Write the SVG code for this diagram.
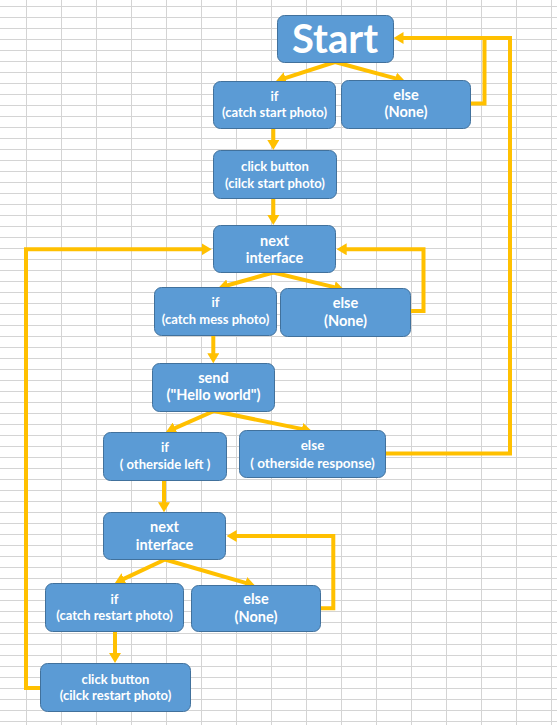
<svg xmlns="http://www.w3.org/2000/svg" width="557" height="725" viewBox="0 0 557 725">
<defs>
<style>
.grid{stroke:#d4d4d4;stroke-width:1;fill:none}
.box{fill:#5b9bd5;stroke:#41719c;stroke-width:1}
.t{font-family:Lato,"Liberation Sans",sans-serif;font-weight:bold;fill:#fff;text-anchor:middle;font-size:13px}
.L{font-size:14.5px}
.M{font-size:13.5px}
.big{font-size:40px}
.c{stroke:#ffc000;stroke-width:4;fill:none;stroke-linejoin:miter}
.a{marker-end:url(#ah)}
</style>
<marker id="ah" viewBox="0 0 10 12" refX="2" refY="6" markerWidth="10" markerHeight="12" markerUnits="userSpaceOnUse" orient="auto">
<path d="M0,0 L10,6 L0,12 z" fill="#ffc000"/>
</marker>
</defs>
<rect width="557" height="725" fill="#fff"/>
<path class="grid" d="M0 6.5H557M0 17.5H557M0 28.5H557M0 39.5H557M0 50.5H557M0 61.5H557M0 72.5H557M0 83.5H557M0 94.5H557M0 105.5H557M0 116.5H557M0 127.5H557M0 138.5H557M0 149.5H557M0 160.5H557M0 171.5H557M0 182.5H557M0 193.5H557M0 204.5H557M0 215.5H557M0 226.5H557M0 237.5H557M0 248.5H557M0 259.5H557M0 270.5H557M0 281.5H557M0 292.5H557M0 303.5H557M0 314.5H557M0 325.5H557M0 336.5H557M0 347.5H557M0 358.5H557M0 369.5H557M0 380.5H557M0 391.5H557M0 402.5H557M0 413.5H557M0 424.5H557M0 435.5H557M0 446.5H557M0 457.5H557M0 468.5H557M0 479.5H557M0 490.5H557M0 501.5H557M0 512.5H557M0 523.5H557M0 534.5H557M0 545.5H557M0 556.5H557M0 567.5H557M0 578.5H557M0 589.5H557M0 600.5H557M0 611.5H557M0 622.5H557M0 633.5H557M0 644.5H557M0 655.5H557M0 666.5H557M0 677.5H557M0 688.5H557M0 699.5H557M0 710.5H557M0 721.5H557M26.5 0V725M61.5 0V725M96.5 0V725M131.5 0V725M166.5 0V725M201.5 0V725M236.5 0V725M271.5 0V725M306.5 0V725M341.5 0V725M376.5 0V725M411.5 0V725M446.5 0V725M481.5 0V725M516.5 0V725M551.5 0V725"/>
<g id="connectors">
<path class="c a" d="M335,62 L283.6,78.6"/>
<path class="c a" d="M335,62 L397.3,78.9"/>
<path class="c a" d="M273.3,128 V142"/>
<path class="c a" d="M273.3,198 V217"/>
<path class="c" d="M470.5,103.5 H484.5 V38"/>
<path class="c a" d="M385.5,453.5 H510 V38 H401.5"/>
<path class="c a" d="M273.3,272.5 L226,285.8"/>
<path class="c a" d="M273.3,272.5 L336.2,287.6"/>
<path class="c a" d="M410.5,311 H423.5 V249.3 H344.7"/>
<path class="c a" d="M40,688 H26 V249.3 H203.7"/>
<path class="c a" d="M213.3,335 V355.3"/>
<path class="c a" d="M214,411 L173.3,428.8"/>
<path class="c a" d="M214,411 L303.9,429.4"/>
<path class="c a" d="M164,480 V504.3"/>
<path class="c a" d="M165,559.5 L122.2,579.6"/>
<path class="c a" d="M165,559.5 L247.3,583.3"/>
<path class="c a" d="M320,608.3 H333.3 V536 H234.7"/>
<path class="c a" d="M115,631 V655"/>
</g>
<g id="start"><rect class="box" x="277.5" y="15.5" width="116" height="47" rx="7"/><text class="t big" x="335" y="53">Start</text></g>
<g id="if1"><rect class="box" x="213.5" y="81.5" width="122" height="47" rx="7"/><text class="t" x="274.5" y="100.5">if</text><text class="t" x="274.5" y="116.5">(catch start photo)</text></g>
<g id="else1"><rect class="box" x="341.5" y="80.5" width="129" height="48" rx="7"/><text class="t L" x="406" y="100">else</text><text class="t L" x="406" y="117">(None)</text></g>
<g id="click1"><rect class="box" x="213.5" y="150.5" width="123" height="48" rx="7"/><text class="t" x="275" y="171">click button</text><text class="t" x="275" y="187.5">(cilck start photo)</text></g>
<g id="next1"><rect class="box" x="213.5" y="225.5" width="122" height="47" rx="7"/><text class="t L" x="274.5" y="245.5">next</text><text class="t L" x="274.5" y="263">interface</text></g>
<g id="if2"><rect class="box" x="154.5" y="287.5" width="122" height="48" rx="7"/><text class="t" x="215.5" y="307">if</text><text class="t" x="215.5" y="323.5">(catch mess photo)</text></g>
<g id="else2"><rect class="box" x="280.5" y="288.5" width="130" height="48" rx="7"/><text class="t L" x="345.5" y="308">else</text><text class="t L" x="345.5" y="325.5">(None)</text></g>
<g id="send"><rect class="box" x="152.5" y="363.5" width="122" height="48" rx="7"/><text class="t L" x="213.5" y="383">send</text><text class="t L" x="213.5" y="400">("Hello world")</text></g>
<g id="if3"><rect class="box" x="103.5" y="432.5" width="123" height="48" rx="7"/><text class="t" x="165" y="452">if</text><text class="t" x="165" y="468.5">( otherside left )</text></g>
<g id="else3"><rect class="box" x="239.5" y="430.5" width="146" height="47" rx="7"/><text class="t M" x="312.5" y="450">else</text><text class="t M" x="312.5" y="467.5">( otherside response)</text></g>
<g id="next2"><rect class="box" x="103.5" y="512.5" width="122" height="47" rx="7"/><text class="t L" x="164.5" y="532.3">next</text><text class="t L" x="164.5" y="550">interface</text></g>
<g id="if4"><rect class="box" x="45.5" y="583.5" width="138" height="48" rx="7"/><text class="t" x="114.5" y="603.5">if</text><text class="t" x="114.5" y="619.5">(catch restart photo)</text></g>
<g id="else4"><rect class="box" x="191.5" y="585.5" width="129" height="46" rx="7"/><text class="t L" x="256" y="604.3">else</text><text class="t L" x="256" y="622">(None)</text></g>
<g id="click2"><rect class="box" x="40.5" y="663.5" width="150" height="48" rx="7"/><text class="t" x="115.5" y="683.5">click button</text><text class="t" x="115.5" y="700">(cilck restart photo)</text></g>
</svg>
